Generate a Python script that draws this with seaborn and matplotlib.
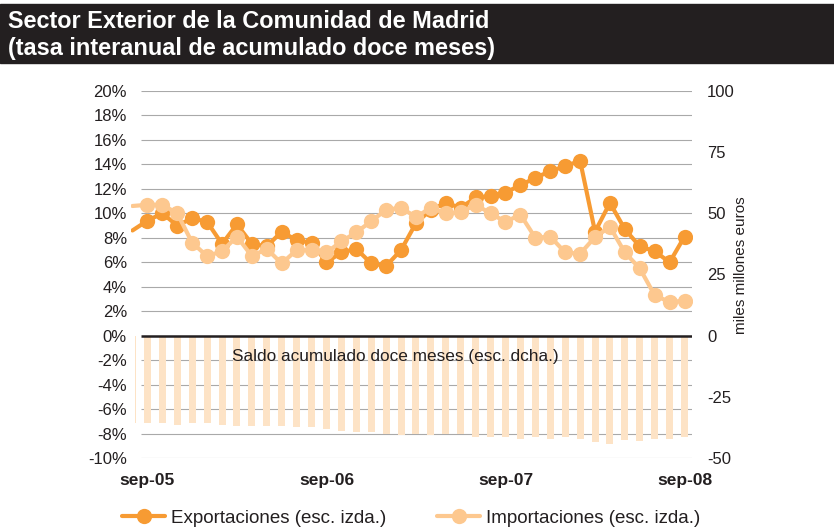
import numpy as np
import matplotlib
matplotlib.use("Agg")
import matplotlib.pyplot as plt
from matplotlib.patches import Rectangle
import seaborn as sns

# Months from ago-05 to sep-08
meses = ["ago-05", "sep-05", "oct-05", "nov-05", "dic-05",
         "ene-06", "feb-06", "mar-06", "abr-06", "may-06", "jun-06", "jul-06",
         "ago-06", "sep-06", "oct-06", "nov-06", "dic-06",
         "ene-07", "feb-07", "mar-07", "abr-07", "may-07", "jun-07", "jul-07",
         "ago-07", "sep-07", "oct-07", "nov-07", "dic-07",
         "ene-08", "feb-08", "mar-08", "abr-08", "may-08", "jun-08", "jul-08",
         "ago-08", "sep-08"]

# Year-on-year rate of the 12-month accumulated flows (%)
exportaciones = [8.6, 9.4, 10.0, 9.0, 9.6, 9.3, 7.5, 9.1, 7.5, 7.3, 8.5, 7.8,
                 7.6, 6.0, 6.8, 7.1, 5.9, 5.7, 7.0, 9.2, 10.3, 10.85, 10.45, 11.3,
                 11.4, 11.7, 12.3, 12.9, 13.45, 13.85, 14.3, 8.5, 10.85, 8.7, 7.3,
                 6.9, 6.0, 8.1]
importaciones = [10.6, 10.7, 10.7, 10.0, 7.6, 6.5, 6.9, 8.1, 6.5, 7.1, 5.9, 7.0,
                 7.0, 6.8, 7.7, 8.45, 9.35, 10.3, 10.45, 9.7, 10.45, 10.0, 10.1, 10.7,
                 10.0, 9.3, 9.9, 8.0, 8.1, 6.8, 6.7, 8.05, 8.9, 6.8, 5.5,
                 3.3, 2.75, 2.85]

# 12-month accumulated trade balance (thousand million euros, right scale)
saldo = [-35.5, -35.8, -35.8, -36.6, -35.8, -35.8, -36.6, -37.0, -37.0, -37.0,
         -37.0, -37.4, -37.4, -38.1, -39.1, -39.5, -39.5, -40.2, -40.6, -40.2,
         -40.5, -40.2, -40.2, -41.4, -41.4, -41.4, -42.2, -41.4, -42.2, -41.4,
         -42.2, -43.6, -44.3, -42.8, -42.9, -42.2, -42.2, -41.6]

etiquetas_x = ["sep-05", "sep-06", "sep-07", "sep-08"]

C_EXP = "#F79B33"
C_IMP = "#FDC88F"
C_BAR = "#FDE3C6"
C_GRID = "#A9A9A9"
C_TXT = "#231F20"

sns.set_style("white")
plt.rcParams["font.family"] = ["Liberation Sans", "DejaVu Sans"]

pos = np.arange(len(meses))
# the leading month only carries the line in from the left edge
marcas = list(range(1, len(meses)))

fig = plt.figure(figsize=(8.34, 5.27), dpi=100)
ax = fig.add_axes([131 / 834, 69 / 527, 561 / 834, 367 / 527])
ax2 = ax.twinx()

# Trade balance bars on the right-hand scale
sns.barplot(x=pos, y=saldo, ax=ax, native_scale=True, color=C_BAR,
            saturation=1, width=0.47, errorbar=None)
zona_barras = Rectangle((0.15, -60), 40, 170, transform=ax.transData)
for p in ax.patches:
    p.set_zorder(2)
    p.set_linewidth(0)
    p.set_clip_path(zona_barras)

# Horizontal grid every 2% (10 units on the right scale)
x_grid0, x_grid1 = 0.55, 37.5
for v in np.arange(-50, 101, 10):
    if v == 0:
        continue
    ax.hlines(v, x_grid0, x_grid1, color=C_GRID, lw=0.8, zorder=1)
ax.hlines(0, x_grid0, x_grid1, color=C_TXT, lw=1.8, zorder=3)

# Growth-rate lines on the left-hand scale
sns.lineplot(x=pos, y=exportaciones, ax=ax2, color=C_EXP, lw=3,
             marker="o", markersize=11, markeredgewidth=0, markevery=marcas,
             markeredgecolor=C_EXP, label="Exportaciones (esc. izda.)")
sns.lineplot(x=pos, y=importaciones, ax=ax2, color=C_IMP, lw=3,
             marker="o", markersize=11, markeredgewidth=0, markevery=marcas,
             markeredgecolor=C_IMP, label="Importaciones (esc. izda.)")

handles, labels = ax2.get_legend_handles_labels()
if ax2.get_legend() is not None:
    ax2.get_legend().remove()

# Axes: limits, ticks, labels
ax.set_xlim(-0.1, 37.5)
ax.set_ylim(-50, 100)
ax2.set_ylim(-10, 20)

ax.yaxis.tick_right()
ax.yaxis.set_label_position("right")
ax2.yaxis.tick_left()

ax.set_yticks(np.arange(-50, 101, 25))
ax.set_yticklabels([str(v) for v in np.arange(-50, 101, 25)])
ax2.set_yticks(np.arange(-10, 21, 2))
ax2.set_yticklabels([f"{v}%" for v in np.arange(-10, 21, 2)])

ax.set_xticks([meses.index(m) for m in etiquetas_x])
ax.set_xticklabels(etiquetas_x, fontweight="bold")

ax.set_xlabel("")
ax.set_ylabel("")
ax2.set_xlabel("")
ax2.set_ylabel("")

ax.tick_params(axis="y", length=0, pad=10.8, labelsize=12, labelcolor=C_TXT)
ax2.tick_params(axis="y", length=0, pad=2.9, labelsize=12, labelcolor=C_TXT)
ax.tick_params(axis="x", length=0, pad=11.0, labelsize=12.5, labelcolor=C_TXT)

for a in (ax, ax2):
    for s in a.spines.values():
        s.set_visible(False)
ax.grid(False)
ax2.grid(False)

fig.text(741 / 834, 1 - 265 / 527, "miles millones euros", rotation=90,
         ha="center", va="center", fontsize=11, color=C_TXT)

fig.text(232 / 834, 1 - 357 / 527, "Saldo acumulado doce meses (esc. dcha.)",
         ha="left", va="center", fontsize=12.4, color=C_TXT)

# Title band
fig.patches.append(Rectangle((0, 1 - 63 / 527), 1, 59 / 527,
                             transform=fig.transFigure, color=C_TXT, zorder=0))
fig.text(8 / 834, 1 - 28 / 527, "Sector Exterior de la Comunidad de Madrid",
         ha="left", va="baseline", fontsize=16.9, fontweight="bold", color="white")
fig.text(8 / 834, 1 - 55 / 527, "(tasa interanual de acumulado doce meses)",
         ha="left", va="baseline", fontsize=16.9, fontweight="bold", color="white")

leg = fig.legend(handles, labels, loc="center left",
                 bbox_to_anchor=(122 / 834, 1 - 518 / 527), ncol=2,
                 frameon=False, fontsize=13.5, handlelength=2.3,
                 handletextpad=0.32, columnspacing=2.7, borderpad=0,
                 borderaxespad=0)
for t in leg.get_texts():
    t.set_color(C_TXT)

fig.savefig("out.png", dpi=100)
